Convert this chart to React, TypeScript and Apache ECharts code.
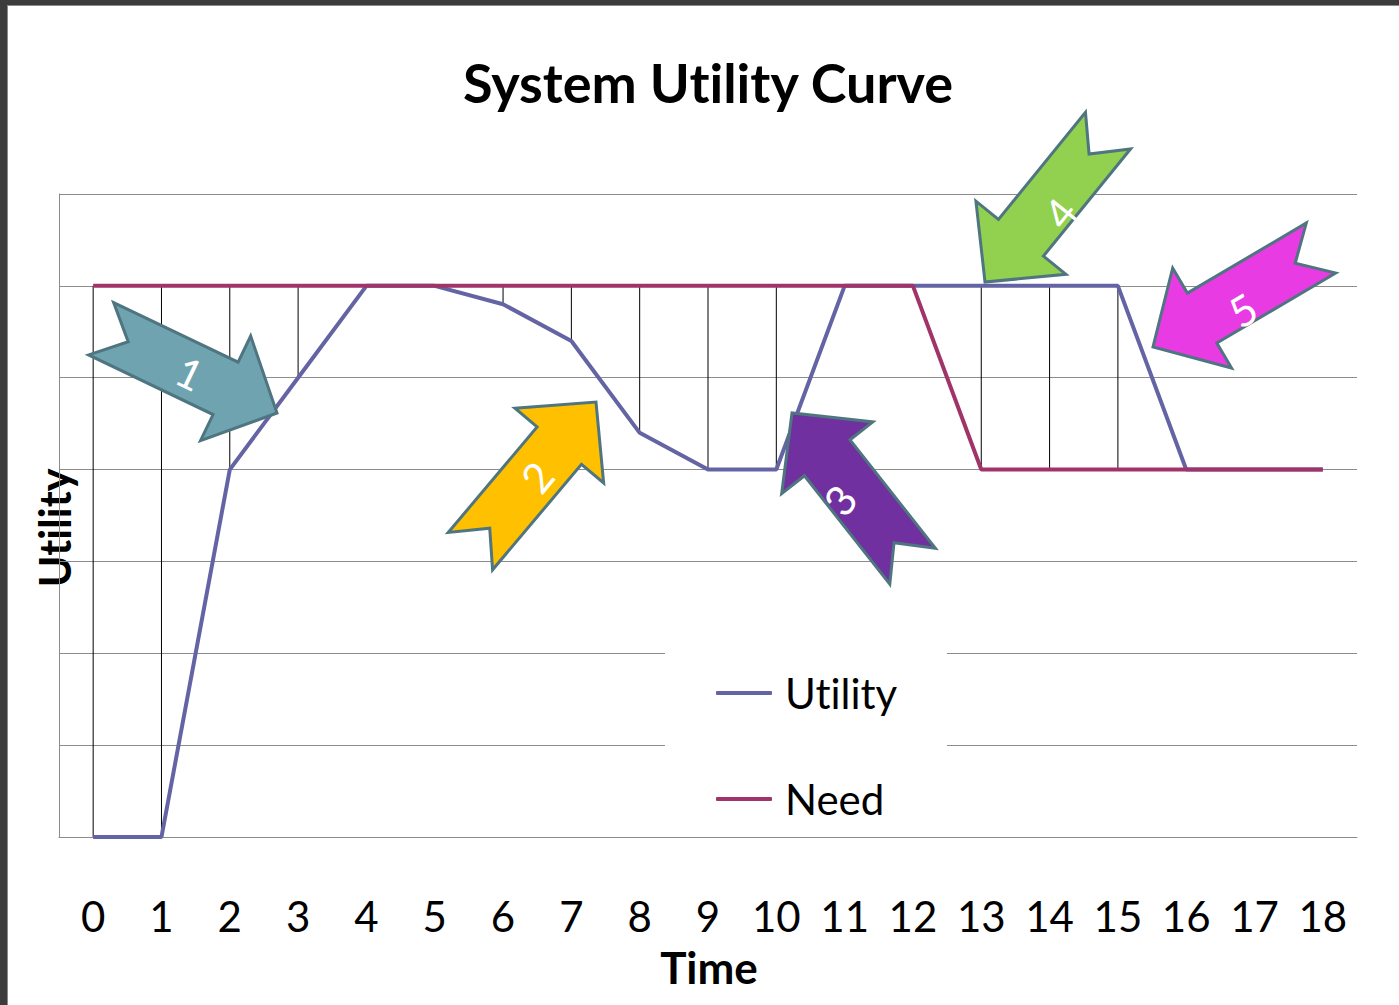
import React, { useEffect, useRef } from "react";
import * as echarts from "echarts";

const CATEGORIES = ["0", "1", "2", "3", "4", "5", "6", "7", "8", "9", "10", "11", "12", "13", "14", "15", "16", "17", "18"];
const UTILITY = [0, 0, 4, 5, 6, 6, 5.8, 5.4, 4.4, 4, 4, 6, 6, 6, 6, 6, 4, 4, 4];
const NEED = [6, 6, 6, 6, 6, 6, 6, 6, 6, 6, 6, 6, 6, 4, 4, 4, 4, 4, 4];
const Y_MIN = 0;
const Y_MAX = 7;

const ARROW_LABELS = ["1", "2", "3", "4", "5"];
const ARROW_FILLS = ["#6FA3B0", "#FFC000", "#7030A0", "#92D050", "#E93BE3"];
const ARROW_TIPS = [[277, 413], [596, 402], [792, 413], [985, 282], [1153, 347]];
const ARROW_ANGLES = [25.6, -49.9, -128.2, 129.1, 149.5];
const ARROW_TEXT_POS = [[190, 373], [537, 477], [840, 500], [1060, 213], [1243, 310]];
const ARROW_TEXT_ROT = [-25.6, 50, 52, 51, 30.5];

const FONT = 'Lato, "Open Sans", "Noto Sans", sans-serif';

function arrowPoints(tip: number[], angleDeg: number) {
  const L = 195, w = 29, h = 58, hl = 57, n = 30;
  const a = (angleDeg * Math.PI) / 180;
  const c = Math.cos(a), s = Math.sin(a);
  const ox = tip[0] - L * c, oy = tip[1] - L * s;
  const local = [[0, -w], [L - hl, -w], [L - hl, -h], [L, 0], [L - hl, h], [L - hl, w], [0, w], [n, 0]];
  return local.map(([x, y]) => [ox + x * c - y * s, oy + x * s + y * c]);
}

export default function App() {
  const ref = useRef<HTMLDivElement>(null);
  useEffect(() => {
    if (!ref.current) return;
    const chart = echarts.init(ref.current, null, { renderer: "svg" });

    const hiLo = CATEGORIES.map((_, i) => [i, Math.max(UTILITY[i], NEED[i]), Math.min(UTILITY[i], NEED[i])]);

    const arrowGraphics: any[] = [];
    ARROW_LABELS.forEach((lab, i) => {
      arrowGraphics.push({
        type: "polygon",
        z: 100,
        shape: { points: arrowPoints(ARROW_TIPS[i], ARROW_ANGLES[i]) },
        style: { fill: ARROW_FILLS[i], stroke: "#4F7580", lineWidth: 3, lineJoin: "miter" },
      });
      arrowGraphics.push({
        type: "text",
        z: 101,
        x: ARROW_TEXT_POS[i][0],
        y: ARROW_TEXT_POS[i][1],
        rotation: (ARROW_TEXT_ROT[i] * Math.PI) / 180,
        style: {
          text: lab,
          fill: "#ffffff",
          font: `42px ${FONT}`,
          align: "center",
          verticalAlign: "middle",
        },
      });
    });

    chart.setOption({
      animation: false,
      backgroundColor: "#ffffff",
      grid: { left: 59, right: 42, top: 194, bottom: 168, containLabel: false },
      xAxis: {
        type: "category",
        data: CATEGORIES,
        boundaryGap: true,
        axisTick: { show: false },
        axisLine: { show: true, lineStyle: { color: "#8c8c8c", width: 1 } },
        axisLabel: { margin: 58, fontSize: 42, color: "#000", fontFamily: FONT, interval: 0 },
        splitLine: { show: false },
      },
      yAxis: {
        type: "value",
        min: Y_MIN,
        max: Y_MAX,
        interval: 1,
        axisLabel: { show: false },
        axisTick: { show: false },
        axisLine: { show: true, lineStyle: { color: "#8c8c8c", width: 1 } },
        splitLine: { show: true, lineStyle: { color: "#8c8c8c", width: 1 } },
      },
      legend: {
        data: ["Utility", "Need"],
        orient: "vertical",
        left: 665,
        top: 640,
        padding: [28, 49, 8, 51],
        backgroundColor: "#ffffff",
        itemWidth: 56,
        itemHeight: 4,
        itemGap: 56,
        icon: "roundRect",
        textStyle: { fontSize: 42, lineHeight: 50, color: "#000", fontFamily: FONT, padding: [0, 0, 0, 8] },
      },
      series: [
        {
          type: "custom",
          name: "hilo",
          z: 1,
          data: hiLo,
          encode: { x: 0, y: [1, 2] },
          renderItem: (params: any, api: any) => {
            const x = api.value(0);
            const p1 = api.coord([x, api.value(1)]);
            const p2 = api.coord([x, api.value(2)]);
            return {
              type: "line",
              shape: { x1: p1[0], y1: p1[1], x2: p2[0], y2: p2[1] },
              style: { stroke: "#000000", lineWidth: 1 },
            };
          },
          silent: true,
        },
        {
          type: "line",
          name: "Utility",
          data: UTILITY,
          symbol: "none",
          z: 3,
          lineStyle: { color: "#6464A4", width: 4 },
          itemStyle: { color: "#6464A4" },
        },
        {
          type: "line",
          name: "Need",
          data: NEED,
          symbol: "none",
          z: 4,
          lineStyle: { color: "#A03468", width: 4 },
          itemStyle: { color: "#A03468" },
        },
      ],
      graphic: [
        { type: "rect", z: 200, shape: { x: 0, y: 0, width: 1399, height: 5 }, style: { fill: "#3c3c3c" } },
        { type: "rect", z: 200, shape: { x: 0, y: 0, width: 7, height: 1005 }, style: { fill: "#3c3c3c" } },
        { type: "line", z: 200, shape: { x1: 7, y1: 5.5, x2: 1399, y2: 5.5 }, style: { stroke: "#8a8a8a", lineWidth: 1 } },
        { type: "line", z: 200, shape: { x1: 7.5, y1: 5, x2: 7.5, y2: 1005 }, style: { stroke: "#8a8a8a", lineWidth: 1 } },
        {
          type: "text",
          x: 708,
          y: 82,
          style: { text: "System Utility Curve", font: `bold 54px ${FONT}`, fill: "#000", align: "center", verticalAlign: "middle" },
        },
        {
          type: "text",
          x: 709,
          y: 967,
          style: { text: "Time", font: `bold 44px ${FONT}`, fill: "#000", align: "center", verticalAlign: "middle" },
        },
        {
          type: "text",
          x: 54,
          y: 528,
          rotation: Math.PI / 2,
          style: { text: "Utility", font: `bold 43px ${FONT}`, fill: "#000", align: "center", verticalAlign: "middle" },
        },
        ...arrowGraphics,
      ],
    });
    return () => chart.dispose();
  }, []);

  return (
    <>
      <style>{"svg text { font-variant-ligatures: none !important; font-feature-settings: 'liga' 0, 'clig' 0 !important; }"}</style>
      <div
        ref={ref}
        style={{ position: "fixed", left: 0, top: 0, width: 1399, height: 1005, background: "#fff" }}
      />
    </>
  );
}
